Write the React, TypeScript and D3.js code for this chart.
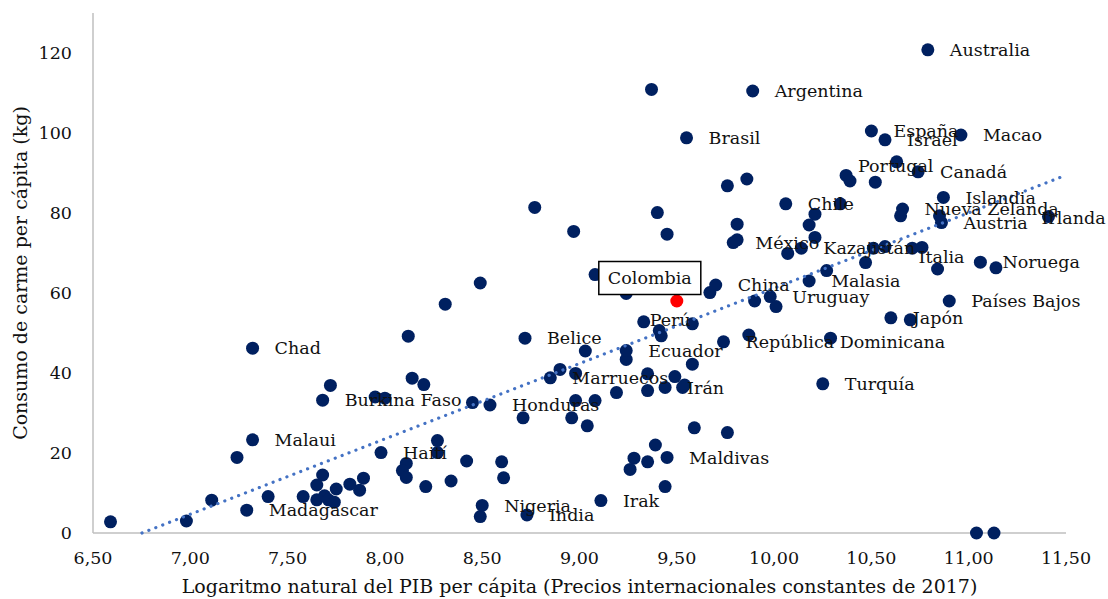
import React from "react";
import * as d3 from "d3";

// ---- Data ----
// Labeled countries: ln GDP per capita, meat consumption per capita (kg)
const labeledNames = [
  "Australia", "Argentina", "Brasil", "España", "Israel", "Macao", "Portugal", "Canadá",
  "Chile", "Islandia", "Nueva Zelanda", "Austria", "Irlanda", "México", "Kazajistán", "Italia",
  "Noruega", "Malasia", "China", "Uruguay", "Países Bajos", "Japón", "Perú", "Belice",
  "República Dominicana", "Ecuador", "Marruecos", "Irán", "Honduras", "Turquía", "Maldivas",
  "Irak", "Nigeria", "India", "Chad", "Burkina Faso", "Malaui", "Haití", "Madagascar",
];
const labeledX = [
  10.79, 9.89, 9.55, 10.5, 10.57, 10.96, 10.63, 10.74,
  10.06, 10.87, 10.66, 10.86, 11.41, 9.79, 10.14, 10.84,
  11.06, 10.18, 9.7, 9.98, 10.9, 10.6, 9.33, 8.72,
  9.74, 9.24, 8.85, 9.44, 8.54, 10.25, 9.45,
  9.11, 8.5, 8.73, 7.32, 7.68, 7.32, 7.98, 7.29,
];
const labeledY = [
  120.8, 110.5, 98.8, 100.5, 98.3, 99.5, 92.8, 90.3,
  82.3, 83.9, 81.0, 77.6, 79.1, 72.6, 71.2, 66.0,
  67.7, 63.0, 62.0, 59.1, 58.0, 53.8, 52.8, 48.7,
  47.8, 45.6, 38.8, 36.4, 32.0, 37.3, 18.9,
  8.1, 6.9, 4.5, 46.2, 33.2, 23.3, 20.1, 5.7,
];

// Unlabeled countries
const otherX = [
  9.37, 9.76, 9.86, 8.77, 9.4, 8.97, 9.45, 9.81, 9.81, 10.07, 10.21, 10.18, 10.21, 10.34,
  10.37, 10.39, 10.52, 10.65, 10.85, 10.51, 10.57, 10.71, 10.76, 10.47, 10.27, 11.14,
  9.08, 9.57, 8.49, 8.31, 9.24, 9.67, 9.9, 10.01, 9.41, 9.42, 9.58, 9.87, 10.29, 9.03,
  9.24, 9.58, 8.9, 8.98, 9.35, 9.49, 9.53, 9.54, 9.35, 9.19, 8.45, 8.98, 9.08, 8.71,
  8.96, 9.04, 9.59, 9.76, 9.39, 9.28, 9.35, 9.26, 8.42, 8.6, 8.61, 8.34, 9.44, 8.49,
  10.7, 11.04, 11.13,
  8.12, 8.14, 8.2, 7.72, 7.95, 8.0, 8.27, 7.24, 8.27, 8.11, 8.09, 8.11, 8.21, 7.68,
  7.65, 7.75, 7.82, 7.89, 7.87, 7.58, 7.65, 7.69, 7.71, 7.74, 7.4, 7.11, 6.98, 6.59,
];
const otherY = [
  110.9, 86.8, 88.5, 81.4, 80.1, 75.4, 74.7, 77.2, 73.3, 69.9, 79.7, 77.0, 73.9, 82.3,
  89.4, 88.0, 87.7, 79.3, 79.3, 71.2, 71.6, 71.2, 71.4, 67.6, 65.6, 66.3,
  64.6, 65.1, 62.5, 57.2, 59.9, 60.1, 58.0, 56.6, 50.6, 49.3, 52.3, 49.5, 48.7, 45.5,
  43.4, 42.2, 40.9, 39.9, 39.8, 39.1, 36.4, 37.0, 35.6, 35.1, 32.6, 33.1, 33.1, 28.8,
  28.8, 26.8, 26.3, 25.1, 22.0, 18.7, 17.8, 15.9, 18.0, 17.8, 13.8, 13.0, 11.6, 4.1,
  53.3, 0, 0,
  49.2, 38.7, 37.1, 36.9, 34.0, 33.7, 23.1, 18.9, 20.1, 17.4, 15.6, 13.9, 11.6, 14.5,
  12.0, 11.0, 12.2, 13.7, 10.7, 9.1, 8.3, 9.3, 8.3, 7.7, 9.1, 8.2, 3.0, 2.8,
];

// Highlighted country
const highlightName = "Colombia";
const highlightX = 9.5;
const highlightY = 58.0;

// Linear trend line (y = a + b x)
const trendSlope = 18.84;
const trendIntercept = -127.2;

const xTicks = [6.5, 7, 7.5, 8, 8.5, 9, 9.5, 10, 10.5, 11, 11.5];
const yTicks = [0, 20, 40, 60, 80, 100, 120];
const xDomain: [number, number] = [6.5, 11.5];
const yDomain: [number, number] = [0, 130];

const xTitle = "Logaritmo natural del PIB per cápita (Precios internacionales constantes de 2017)";
const yTitle = "Consumo de carme per cápita (kg)";

// ---- Layout / style ----
const W = 1108;
const H = 599;
const plot = { left: 93, right: 1066, top: 13, bottom: 533 };
const FONT = "'DejaVu Serif', serif";
const NAVY = "#002060";
const TREND = "#4472C4";
const AXIS = "#BFBFBF";

// label placement tweaks (layout only)
const labelPlacement: Record<string, { dx: number; dy: number; anchor: string }> = {
  Portugal: { dx: -1, dy: 4, anchor: "middle" },
  Italia: { dx: 4, dy: -12, anchor: "middle" },
  Irlanda: { dx: -7, dy: 1, anchor: "start" },
  "Perú": { dx: 6, dy: -2, anchor: "start" },
};
const defaultPlacement = { dx: 22, dy: 0, anchor: "start" };

export default function App() {
  const x = d3.scaleLinear().domain(xDomain).range([plot.left, plot.right]);
  const y = d3.scaleLinear().domain(yDomain).range([plot.bottom, plot.top]);
  const fmt = (v: number) => v.toFixed(2).replace(".", ",");

  const x0 = -trendIntercept / trendSlope;
  const trendPts: [number, number][] = [
    [x0, 0],
    [xDomain[1], trendIntercept + trendSlope * xDomain[1]],
  ];
  const line = d3
    .line<[number, number]>()
    .x((d) => x(d[0]))
    .y((d) => y(d[1]));

  const labelFont = 17.5;
  const titleFont = 19;

  return (
    <svg
      width={W}
      height={H}
      style={{ position: "absolute", left: 0, top: 0, display: "block", background: "#fff" }}
      fontFamily={FONT}
    >
      <rect x={0} y={0} width={W} height={H} fill="#fff" />
      {/* axes */}
      <line x1={plot.left} x2={plot.left} y1={plot.top} y2={plot.bottom} stroke={AXIS} strokeWidth={1.5} />
      <line x1={plot.left} x2={plot.right} y1={plot.bottom} y2={plot.bottom} stroke={AXIS} strokeWidth={1.5} />

      {yTicks.map((t) => (
        <text key={"y" + t} x={plot.left - 21} y={y(t)} dy="0.35em" textAnchor="end" fontSize={17.5} fill="#111">
          {t}
        </text>
      ))}
      {xTicks.map((t) => (
        <text key={"x" + t} x={x(t)} y={plot.bottom + 25} dy="0.35em" textAnchor="middle" fontSize={17.5} fill="#111">
          {fmt(t)}
        </text>
      ))}

      <text x={(plot.left + plot.right) / 2} y={586} dy="0.35em" textAnchor="middle" fontSize={titleFont} fill="#111">
        {xTitle}
      </text>
      <text
        transform={`translate(20,${(plot.top + plot.bottom) / 2}) rotate(-90)`}
        dy="0.35em"
        textAnchor="middle"
        fontSize={titleFont}
        fill="#111"
      >
        {yTitle}
      </text>

      {/* points */}
      {otherX.map((v, i) => (
        <circle key={"o" + i} cx={x(v)} cy={y(otherY[i])} r={6.5} fill={NAVY} />
      ))}
      {labeledX.map((v, i) => (
        <circle key={"l" + i} cx={x(v)} cy={y(labeledY[i])} r={6.5} fill={NAVY} />
      ))}
      <circle cx={x(highlightX)} cy={y(highlightY)} r={6.5} fill="#FF0000" />

      {/* trend line */}
      <path
        d={line(trendPts) || ""}
        fill="none"
        stroke={TREND}
        strokeWidth={3.2}
        strokeLinecap="round"
        strokeDasharray="0.1 7.3"
      />

      {/* labels */}
      {labeledNames.map((n, i) => {
        const p = labelPlacement[n] || defaultPlacement;
        return (
          <text
            key={"t" + n}
            x={x(labeledX[i]) + p.dx}
            y={y(labeledY[i]) + p.dy}
            dy="0.35em"
            textAnchor={p.anchor as any}
            fontSize={labelFont}
            fill="#111"
          >
            {n}
          </text>
        );
      })}

      {/* highlighted label with box */}
      <g transform={`translate(${x(highlightX) - 27},${y(highlightY) - 23})`}>
        <rect x={-51} y={-16.5} width={102} height={33} fill="#fff" stroke="#000" strokeWidth={1.5} />
        <text textAnchor="middle" dy="0.35em" fontSize={labelFont} fill="#111">
          {highlightName}
        </text>
      </g>
    </svg>
  );
}
